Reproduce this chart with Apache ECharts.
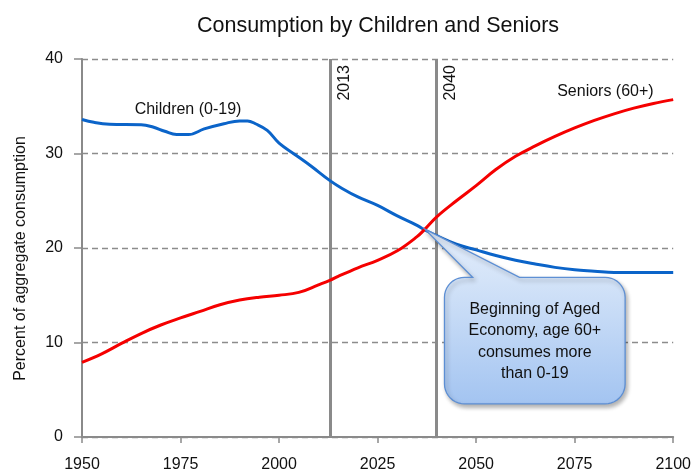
<!DOCTYPE html>
<html><head><meta charset="utf-8">
<script src="https://cdn.jsdelivr.net/npm/echarts@6/dist/echarts.min.js"></script>
<style>html,body{margin:0;padding:0;background:#fff}#c{width:694px;height:473px}</style>
</head><body><div id="c"></div>
<script>
const yearsChildren = [1950,1953,1957,1965,1968,1971,1974,1977,1981,1986,1990,1992,1994,1997,2000,2004,2008,2013,2016,2020,2025,2030,2035,2037,2040,2045,2050,2055,2060,2065,2070,2075,2080,2085,2090,2095,2100];
const children      = [33.6,33.3,33.1,33.05,32.8,32.35,32.0,32.0,32.6,33.15,33.45,33.45,33.15,32.45,31.1,29.9,28.7,27.1,26.3,25.4,24.5,23.4,22.4,21.9,21.3,20.4,19.8,19.2,18.7,18.3,17.95,17.7,17.55,17.4,17.4,17.4,17.4];
const yearsSeniors  = [1950,1955,1960,1965,1970,1975,1980,1985,1990,1995,2000,2005,2010,2013,2015,2020,2025,2030,2035,2037,2040,2045,2050,2055,2060,2065,2070,2075,2080,2085,2090,2095,2100];
const seniors       = [7.9,8.8,9.9,10.95,11.85,12.6,13.3,14.0,14.5,14.8,15.0,15.3,16.1,16.6,17.0,17.9,18.7,19.7,21.2,22.0,23.3,25.0,26.6,28.3,29.7,30.8,31.8,32.7,33.5,34.2,34.8,35.3,35.7];
const markYears = [2013, 2040];
const titleText = 'Consumption by Children and Seniors';
const yAxisName = 'Percent of aggregate consumption';
const childrenLabel = 'Children (0-19)';
const seniorsLabel = 'Seniors (60+)';
const calloutLines = ['Beginning of Aged', 'Economy, age 60+', 'consumes more', 'than 0-19'];

const FONT = '"Liberation Sans", Arial, sans-serif';
const chart = echarts.init(document.getElementById('c'));
const zip = (xs, vs) => xs.map((x, i) => [x, vs[i]]);

chart.setOption({
  animation: false,
  title: {
    text: titleText, left: 373, top: 10, textAlign: 'center',
    textStyle: { fontFamily: FONT, fontSize: 21.5, fontWeight: 'normal', color: '#111' }
  },
  grid: { left: 82, right: 20, top: 59, bottom: 35, containLabel: false },
  xAxis: {
    type: 'value', min: 1950, max: 2100, interval: 25,
    axisLine: { lineStyle: { color: '#8a8a8a', width: 2 } },
    axisTick: { length: 6, lineStyle: { color: '#8a8a8a', width: 1.5 } },
    axisLabel: { margin: 20, fontFamily: FONT, fontSize: 16, color: '#111', formatter: v => String(v) },
    splitLine: { show: false }
  },
  yAxis: {
    type: 'value', min: 0, max: 40, interval: 10,
    name: yAxisName, nameLocation: 'middle', nameRotate: 90, nameGap: 53,
    nameTextStyle: { fontFamily: FONT, fontSize: 16, color: '#111', padding: [0, 21, 0, 0] },
    axisLine: { show: true, lineStyle: { color: '#8a8a8a', width: 2 } },
    axisTick: { show: true, length: 8, lineStyle: { color: '#8a8a8a', width: 1.5 } },
    axisLabel: { margin: 19, fontFamily: FONT, fontSize: 16, color: '#111' },
    splitLine: { show: true, lineStyle: { color: '#8c8c8c', width: 1.3, type: [6, 4] } }
  },
  series: [
    {
      name: 'Children', type: 'line', data: zip(yearsChildren, children),
      showSymbol: false, smooth: 0.4, z: 3,
      lineStyle: { color: '#0b64c9', width: 3 }, itemStyle: { color: '#0b64c9' },
      markLine: {
        silent: true, symbol: 'none', z: 2,
        lineStyle: { color: '#8a8a8a', width: 3, type: 'solid' },
        label: { show: true, position: 'insideEndBottom', formatter: p => String(p.value), fontFamily: FONT, fontSize: 16, color: '#111', distance: 6 },
        data: markYears.map(y => ({ xAxis: y }))
      }
    },
    {
      name: 'Seniors', type: 'line', data: zip(yearsSeniors, seniors),
      showSymbol: false, smooth: 0.4, z: 3,
      lineStyle: { color: '#f50000', width: 3 }, itemStyle: { color: '#f50000' }
    }
  ]
});

const px = (x, y) => chart.convertToPixel({ gridIndex: 0 }, [x, y]);
const cl = px(1976.9, 34.6);
const sl = px(2082.8, 36.6);
const tip = px(2037, 22);
const boxTL = px(2041.97, 16.9);
const boxBR = px(2087.8, 3.5);
const baseL = px(2049.1, 16.9);
const baseR = px(2061.0, 16.9);
const x0 = boxTL[0], y0 = boxTL[1], x1 = boxBR[0], y1 = boxBR[1], r = 20;

function arc(cx, cy, a0, a1, pts) {
  const n = 10;
  for (let i = 0; i <= n; i++) {
    const a = a0 + (a1 - a0) * i / n;
    pts.push([cx + r * Math.cos(a), cy + r * Math.sin(a)]);
  }
}
const pts = [];
pts.push([baseL[0], y0], tip, [baseR[0], y0]);
arc(x1 - r, y0 + r, -Math.PI / 2, 0, pts);
arc(x1 - r, y1 - r, 0, Math.PI / 2, pts);
arc(x0 + r, y1 - r, Math.PI / 2, Math.PI, pts);
arc(x0 + r, y0 + r, Math.PI, Math.PI * 1.5, pts);

chart.setOption({
  graphic: [
    { type: 'text', x: cl[0], y: cl[1], z: 10, style: { text: childrenLabel, align: 'center', verticalAlign: 'middle', font: '16px ' + FONT, fill: '#111' } },
    { type: 'text', x: sl[0], y: sl[1], z: 10, style: { text: seniorsLabel, align: 'center', verticalAlign: 'middle', font: '16px ' + FONT, fill: '#111' } },
    {
      type: 'polygon', z: 10, shape: { points: pts },
      style: {
        fill: { type: 'linear', x: 0, y: 0, x2: 0, y2: 1, colorStops: [
          { offset: 0, color: '#e3edfb' }, { offset: 0.3, color: '#d3e3f8' }, { offset: 1, color: '#a3c4f1' } ] },
        stroke: '#5d8fd4', lineWidth: 1.3,
        shadowBlur: 4, shadowOffsetX: 2, shadowOffsetY: 3, shadowColor: 'rgba(0,0,0,0.3)'
      }
    },
    { type: 'text', x: (x0 + x1) / 2, y: (y0 + y1) / 2 + 1, z: 11, style: { text: calloutLines.join('\n'), align: 'center', verticalAlign: 'middle', lineHeight: 21.5, font: '16px ' + FONT, fill: '#111' } }
  ]
});
</script>
</body></html>
